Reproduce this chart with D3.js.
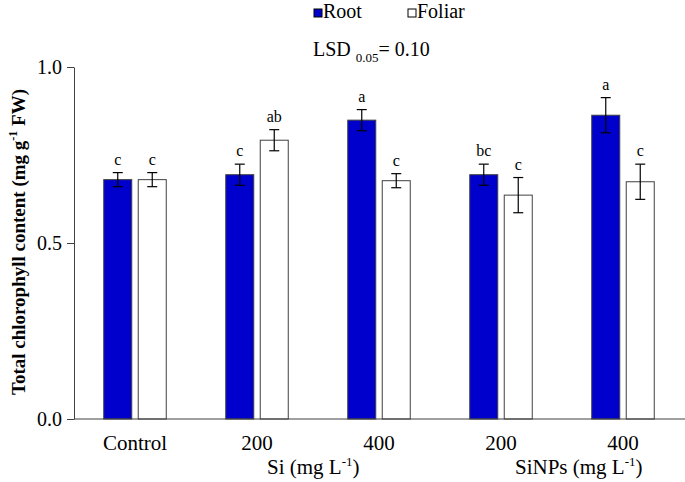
<!DOCTYPE html>
<html><head><meta charset="utf-8">
<script src="https://cdn.jsdelivr.net/npm/d3@7"></script>
<style>
body{margin:0;background:#fff}
svg{display:block}
text{font-family:"Liberation Serif","Times New Roman",serif;fill:#000}
</style>
</head><body>
<svg id="c" width="685" height="482"></svg>
<script>
const categories = ["Control","Si 200","Si 400","SiNPs 200","SiNPs 400"];
const tickLabels = ["Control","200","400","200","400"];
const series = ["Root","Foliar"];
const rootValues = [0.680,0.694,0.849,0.694,0.863];
const rootErrors = [0.020,0.030,0.030,0.030,0.050];
const foliarValues = [0.680,0.792,0.677,0.636,0.674];
const foliarErrors = [0.020,0.030,0.020,0.050,0.050];
const rootLetters = ["c","c","a","bc","a"];
const foliarLetters = ["c","ab","c","c","c"];
const yTicks = [0, 0.5, 1.0];
const seriesColors = ["#0000CC","#FFFFFF"];

const svg = d3.select("#c");
const mLeft = 74, mRight = 684, mTop = 67, mBottom = 419;

const x = d3.scaleBand().domain(categories).range([mLeft, mRight]);
const xSub = d3.scaleBand().domain(series).range([-31.25, 31.25]).paddingInner(0.188);
const y = d3.scaleLinear().domain([0, 1]).range([mBottom, mTop]);
const color = d3.scaleOrdinal().domain(series).range(seriesColors);
const cx0 = c => x(c) + x.bandwidth() / 2;

const rows = [];
categories.forEach((c, i) => {
  rows.push({cat: c, s: "Root", v: rootValues[i], e: rootErrors[i], l: rootLetters[i]});
  rows.push({cat: c, s: "Foliar", v: foliarValues[i], e: foliarErrors[i], l: foliarLetters[i]});
});
const bx = d => cx0(d.cat) + xSub(d.s);

// bars
svg.append("g").selectAll("rect").data(rows).join("rect")
  .attr("x", bx).attr("y", d => y(d.v))
  .attr("width", xSub.bandwidth()).attr("height", d => y(0) - y(d.v))
  .attr("fill", d => color(d.s)).attr("stroke", "#404040").attr("stroke-width", 1);

// error bars
const eb = svg.append("g").attr("stroke", "#000").attr("stroke-width", 1.2);
rows.forEach(d => {
  const cx = bx(d) + xSub.bandwidth() / 2;
  eb.append("line").attr("x1", cx).attr("x2", cx).attr("y1", y(d.v - d.e)).attr("y2", y(d.v + d.e));
  eb.append("line").attr("x1", cx - 5).attr("x2", cx + 5).attr("y1", y(d.v - d.e)).attr("y2", y(d.v - d.e));
  eb.append("line").attr("x1", cx - 5).attr("x2", cx + 5).attr("y1", y(d.v + d.e)).attr("y2", y(d.v + d.e));
});

// letters
svg.append("g").selectAll("text").data(rows).join("text")
  .attr("x", d => bx(d) + xSub.bandwidth() / 2)
  .attr("y", d => y(d.v + d.e) - 8)
  .attr("text-anchor", "middle").attr("font-size", 16)
  .text(d => d.l);

// y axis
const yAxis = svg.append("g").attr("transform", `translate(${mLeft},0)`)
  .call(d3.axisLeft(y).tickValues(yTicks).tickFormat(d3.format(".1f")).tickSize(7).tickSizeOuter(0).tickPadding(5));
yAxis.select(".domain").attr("stroke", "#404040");
yAxis.selectAll(".tick line").attr("stroke", "#404040");
yAxis.selectAll(".tick text").attr("font-size", 20).attr("font-family", "Liberation Serif").attr("fill", "#000");

// x axis line
svg.append("line").attr("x1", mLeft).attr("x2", 685).attr("y1", mBottom).attr("y2", mBottom)
  .attr("stroke", "#404040").attr("stroke-width", 1);

// x labels
svg.append("g").selectAll("text").data(categories).join("text")
  .attr("x", d => cx0(d) - (d === "Control" ? 0 : 0)).attr("y", 450).attr("text-anchor", "middle").attr("font-size", 21)
  .text((d, i) => tickLabels[i]);

// group titles
function groupTitle(name, idx, off) {
  const t = svg.append("text").attr("x", cx0(categories[idx]) + off).attr("y", 474).attr("font-size", 21);
  t.append("tspan").text(name + " (mg L");
  t.append("tspan").attr("font-size", 13).attr("dy", -8).text("-1");
  t.append("tspan").attr("dy", 8).text(")");
}
groupTitle("Si", 1, 10);
groupTitle("SiNPs", 3, 14);

// y title
const yt = svg.append("text").attr("transform", "rotate(-90)")
  .attr("x", -242).attr("y", 25).attr("text-anchor", "middle")
  .attr("font-size", 19).attr("font-weight", "bold");
yt.append("tspan").text("Total chlorophyll content (mg g");
yt.append("tspan").attr("font-size", 12).attr("dy", -8).text("-1");
yt.append("tspan").attr("dy", 8).text(" FW)");

// legend
const lg = svg.append("g");
[[314, 0], [408, 1]].forEach(([lx, i]) => {
  lg.append("rect").attr("x", lx).attr("y", 9).attr("width", 8).attr("height", 8)
    .attr("fill", seriesColors[i]).attr("stroke", "#000").attr("stroke-width", 1);
  lg.append("text").attr("x", lx + 9).attr("y", 18).attr("font-size", 20).text(series[i]);
});

// LSD
const lsd = svg.append("text").attr("x", 313).attr("y", 56).attr("font-size", 20);
lsd.append("tspan").text("LSD ");
lsd.append("tspan").attr("font-size", 13).attr("dy", 6).text("0.05");
lsd.append("tspan").attr("dy", -6).text("= 0.10");
</script>
</body></html>
